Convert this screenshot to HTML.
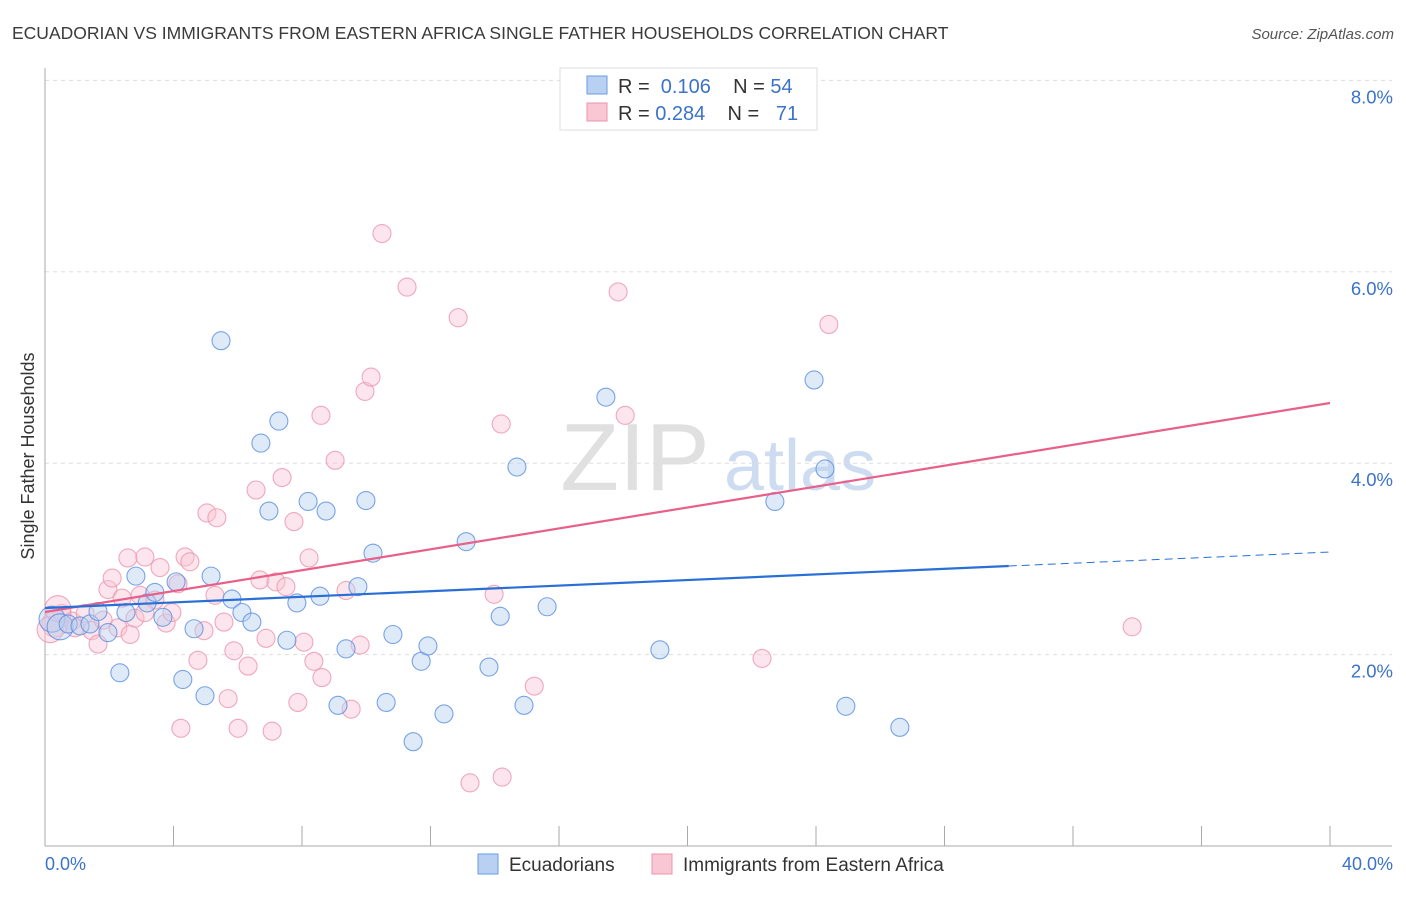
<!DOCTYPE html>
<html><head><meta charset="utf-8"><style>
body{margin:0;background:#fff;font-family:"Liberation Sans",sans-serif;}
svg text{font-family:"Liberation Sans",sans-serif;}
</style></head><body>
<svg id="chart" width="1406" height="892" xmlns="http://www.w3.org/2000/svg">
<text x="12" y="39" font-size="17.5" fill="#3a3a3a">ECUADORIAN VS IMMIGRANTS FROM EASTERN AFRICA SINGLE FATHER HOUSEHOLDS CORRELATION CHART</text>
<text x="1394" y="39" font-size="15" fill="#555" text-anchor="end" font-style="italic">Source: ZipAtlas.com</text>
<text x="635" y="490" font-size="96" fill="#e0e0e0" font-family="Liberation Serif" text-anchor="middle">ZIP</text>
<text x="800" y="490" font-size="72" fill="#cddcf0" text-anchor="middle">atlas</text>
<g id="grid"></g><g id="axes"></g><g id="marks"></g>
<text transform="translate(34,456) rotate(-90)" font-size="18" fill="#333" text-anchor="middle">Single Father Households</text>
<text x="45" y="870" font-size="18" fill="#3b73c9">0.0%</text>
<text x="1393" y="870" font-size="18" fill="#3b73c9" text-anchor="end">40.0%</text>
<g>
<rect x="560" y="68" width="257" height="62" fill="#fff" stroke="#ddd"/>
<rect x="587" y="76" width="20" height="18" fill="#b8d0f2" stroke="#6b9be0"/>
<rect x="587" y="103" width="20" height="18" fill="#f9c6d4" stroke="#ec94ae"/>
<text x="618" y="93" font-size="20" fill="#333" xml:space="preserve">R =  <tspan fill="#3b73c9">0.106</tspan>    N = <tspan fill="#3b73c9">54</tspan></text>
<text x="618" y="120" font-size="20" fill="#333" xml:space="preserve">R = <tspan fill="#3b73c9">0.284</tspan>    N =  <tspan fill="#3b73c9"> 71</tspan></text>
</g>
<g>
<rect x="478" y="854" width="20" height="20" fill="#b8d0f2" stroke="#6b9be0"/>
<text x="509" y="871" font-size="19" fill="#333">Ecuadorians</text>
<rect x="652" y="854" width="20" height="20" fill="#f9c6d4" stroke="#ec94ae"/>
<text x="683" y="871" font-size="19" fill="#333">Immigrants from Eastern Africa</text>
</g>
</svg>
<script>
const yTicks=[2,4,6,8];
const yTickLabels=["2.0%","4.0%","6.0%","8.0%"];
const xTicks=[0,4,8,12,16,20,24,28,32,36,40];
const blueX=[0.22,0.47,0.72,1.09,1.4,1.65,1.96,2.33,2.52,2.83,3.18,3.42,3.67,4.08,4.29,4.64,4.98,5.17,5.48,5.82,6.13,6.44,6.72,6.97,7.28,7.53,7.84,8.19,8.56,8.75,9.12,9.37,9.74,9.99,10.21,10.62,10.83,11.46,11.71,11.92,12.42,13.11,13.82,14.17,14.69,14.91,15.63,17.46,19.14,22.72,23.94,24.28,24.93,26.61];
const blueY=[2.37,2.29,2.32,2.3,2.32,2.45,2.23,1.81,2.44,2.82,2.54,2.65,2.39,2.76,1.74,2.27,1.57,2.82,5.28,2.58,2.44,2.34,4.21,3.5,4.44,2.15,2.54,3.6,2.61,3.5,1.47,2.06,2.71,3.61,3.06,1.5,2.21,1.09,1.93,2.09,1.38,3.18,1.87,2.4,3.96,1.47,2.5,4.69,2.05,3.6,4.87,3.94,1.46,1.24];
const pinkX=[0.31,0.53,0.84,1.25,1.46,1.65,1.96,2.09,2.27,2.4,2.58,2.8,2.96,3.11,3.42,3.58,3.77,3.95,4.14,4.23,4.36,4.51,4.76,4.95,5.04,5.29,5.35,5.57,5.7,5.88,6.01,6.32,6.57,6.69,6.88,7.07,7.19,7.38,7.5,7.75,7.87,8.06,8.22,8.37,8.59,8.62,9.03,9.37,9.53,9.81,9.96,10.15,10.49,11.27,12.86,13.23,13.98,14.2,14.23,15.23,17.84,18.06,22.32,24.4,33.84,0.16,0.4,0.93,1.81,2.65,3.11];
const pinkY=[2.32,2.43,2.35,2.43,2.25,2.11,2.68,2.8,2.28,2.59,3.01,2.38,2.62,3.02,2.57,2.91,2.33,2.44,2.74,1.23,3.02,2.97,1.94,2.25,3.48,2.62,3.43,2.34,1.54,2.04,1.23,1.88,3.72,2.78,2.17,1.2,2.76,3.85,2.71,3.39,1.5,2.13,3.01,1.93,4.5,1.76,4.03,2.67,1.43,2.1,4.75,4.9,6.4,5.84,5.52,0.66,2.63,4.41,0.72,1.67,5.79,4.5,1.96,5.45,2.29,2.26,2.48,2.28,2.36,2.21,2.44];
const blueTrend=[2.487,3.072]; const blueSolidEnd=30.0;
const pinkTrend=[2.445,4.629];
const NS="http://www.w3.org/2000/svg";
const sx=v=>45+v/40*1285, sy=v=>846-v*95.7;
function mk(t,a,p){const e=document.createElementNS(NS,t);for(const k in a)e.setAttribute(k,a[k]);document.getElementById(p).appendChild(e);return e;}
yTicks.forEach((t,i)=>{
 const l=mk('line',{x1:45,x2:1392,y1:sy(t),y2:sy(t),stroke:'#ddd','stroke-dasharray':'4,4'},'grid');
 
 
 const tx=mk('text',{x:1393,y:sy(t)+23,'font-size':18.5,fill:'#3b73c9','text-anchor':'end'},'grid');tx.textContent=yTickLabels[i];
 
 
});
const ya=mk('line',{x1:45,x2:45,y1:68,y2:846,stroke:'#aaa'},'axes');


const xa=mk('line',{x1:45,x2:1392,y1:846,y2:846,stroke:'#aaa'},'axes');


xTicks.forEach(t=>{const l=mk('line',{x1:sx(t),x2:sx(t),y1:826,y2:846,stroke:'#aaa'},'axes');
 
 });
function pts(X,Y,fill,stroke,name){X.forEach((x,i)=>{const r=(x<0.5)?13:9;
 const c=mk('circle',{cx:sx(x),cy:sy(Y[i]),r:r,fill:fill,'fill-opacity':0.45,stroke:stroke,'stroke-opacity':0.8,'stroke-width':1.1},'marks');
 
 });}
pts(pinkX,pinkY,'#f9c6d4','#ec94ae','immigrant-point');
pts(blueX,blueY,'#b8d0f2','#5a8ee0','ecuadorian-point');
const by=x=>blueTrend[0]+(blueTrend[1]-blueTrend[0])*x/40;
const py=x=>pinkTrend[0]+(pinkTrend[1]-pinkTrend[0])*x/40;
const pl=mk('line',{x1:sx(0),y1:sy(py(0)),x2:sx(40),y2:sy(py(40)),stroke:'#e8608a','stroke-width':2.2},'marks');


const bl=mk('line',{x1:sx(0),y1:sy(by(0)),x2:sx(blueSolidEnd),y2:sy(by(blueSolidEnd)),stroke:'#2a6fd6','stroke-width':2.2},'marks');


const bd=mk('line',{x1:sx(blueSolidEnd),y1:sy(by(blueSolidEnd)),x2:sx(40),y2:sy(by(40)),stroke:'#2a6fd6','stroke-width':1,'stroke-dasharray':'8,5'},'marks');


</script>
</body></html>
